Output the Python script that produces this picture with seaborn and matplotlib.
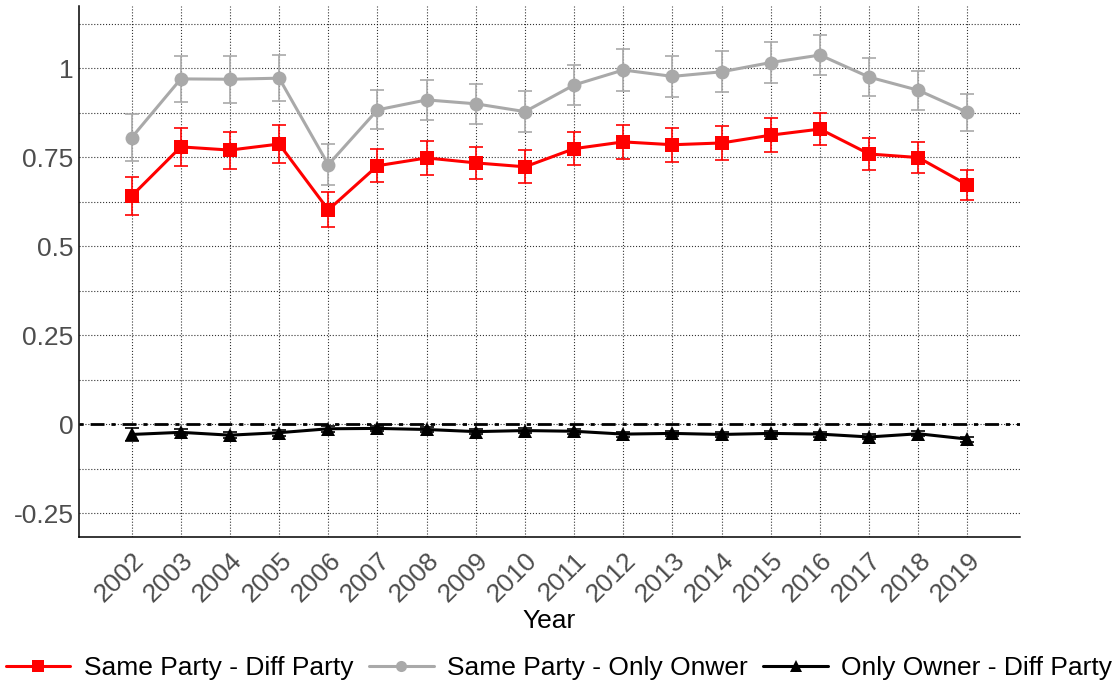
import matplotlib
matplotlib.use("Agg")
import matplotlib.pyplot as plt
import pandas as pd
import seaborn as sns

# values
years = list(range(2002, 2020))

same_diff = [0.641, 0.779, 0.770, 0.787, 0.602, 0.726, 0.748, 0.734, 0.723,
             0.774, 0.793, 0.785, 0.790, 0.812, 0.829, 0.759, 0.749, 0.672]
same_diff_err = [0.054, 0.053, 0.052, 0.054, 0.049, 0.047, 0.048, 0.046, 0.046,
                 0.046, 0.048, 0.048, 0.047, 0.047, 0.046, 0.044, 0.044, 0.041]

same_only = [0.805, 0.970, 0.969, 0.972, 0.729, 0.883, 0.911, 0.900, 0.878,
             0.953, 0.995, 0.977, 0.990, 1.016, 1.037, 0.975, 0.938, 0.876]
same_only_err = [0.066, 0.065, 0.066, 0.065, 0.058, 0.055, 0.057, 0.056, 0.057,
                 0.057, 0.059, 0.058, 0.058, 0.058, 0.056, 0.054, 0.055, 0.051]

only_diff = [-0.029, -0.023, -0.031, -0.024, -0.013, -0.012, -0.015, -0.021, -0.018,
             -0.020, -0.028, -0.026, -0.029, -0.026, -0.028, -0.036, -0.027, -0.042]
only_diff_err = [0.018, 0.008, 0.008, 0.008, 0.008, 0.007, 0.007, 0.007, 0.007,
                 0.007, 0.007, 0.007, 0.007, 0.007, 0.007, 0.007, 0.007, 0.007]

labels = ["Same Party - Diff Party", "Same Party - Only Onwer", "Only Owner - Diff Party"]
colors = ["#FF0000", "#A9A9A9", "#000000"]
markers = ["s", "o", "^"]

df = pd.concat([
    pd.DataFrame({"Year": years, "est": same_diff, "err": same_diff_err, "group": labels[0]}),
    pd.DataFrame({"Year": years, "est": same_only, "err": same_only_err, "group": labels[1]}),
    pd.DataFrame({"Year": years, "est": only_diff, "err": only_diff_err, "group": labels[2]}),
])

sns.set_theme(style="white")
plt.rcParams["font.family"] = ["Liberation Sans", "DejaVu Sans"]
plt.rcParams["text.color"] = "black"

fig = plt.figure(figsize=(11.18, 6.83), dpi=100)
ax = fig.add_axes([0.0707, 0.2138, 0.8413, 0.777])

# error bars first so the lines sit on top
for lab, col in zip(labels, colors):
    sub = df[df["group"] == lab]
    ax.errorbar(sub["Year"], sub["est"], yerr=sub["err"], fmt="none",
                ecolor=col, elinewidth=1.2, capsize=5, capthick=1.2, zorder=3)

sns.lineplot(data=df, x="Year", y="est", hue="group", style="group",
             hue_order=labels, style_order=labels,
             palette=colors, markers=markers, dashes=False,
             linewidth=2.2, markersize=10, markeredgewidth=0,
             ax=ax, zorder=4)

ax.axhline(0, color="black", linewidth=2, dashes=(1.5, 2.5, 5, 2.5), zorder=2)

ax.set_xlim(2002 - 1.07, 2019 + 1.06)
ax.set_ylim(-0.317, 1.174)
ax.set_xticks(years)
ax.set_xticklabels([str(y) for y in years], rotation=45, ha="right",
                   rotation_mode="anchor")
ax.set_yticks([-0.25, 0, 0.25, 0.5, 0.75, 1])
ax.set_yticklabels(["-0.25", "0", "0.25", "0.5", "0.75", "1"])
ax.set_yticks([-0.125, 0.125, 0.375, 0.625, 0.875, 1.125], minor=True)

ax.grid(True, which="both", axis="both", color="black", linestyle=":",
        linewidth=0.8, alpha=0.8)
ax.set_axisbelow(True)
ax.tick_params(axis="both", which="both", length=0, labelsize=19,
               labelcolor="#4D4D4D", pad=4)
ax.tick_params(axis="x", pad=8)

for side in ["top", "right"]:
    ax.spines[side].set_visible(False)
for side in ["left", "bottom"]:
    ax.spines[side].set_color("black")
    ax.spines[side].set_linewidth(1.1)

ax.set_xlabel("Year", fontsize=19, color="black", labelpad=2)
ax.set_ylabel("")

handles, hl = ax.get_legend_handles_labels()
ax.legend_.remove()
fig.legend(handles, hl, loc="lower center", bbox_to_anchor=(0.5, -0.03),
           ncol=3, frameon=False, fontsize=19, handlelength=2.45,
           handletextpad=0.5, columnspacing=0.6, markerscale=0.8,
           labelcolor="black")

fig.savefig("out.png", dpi=100)
